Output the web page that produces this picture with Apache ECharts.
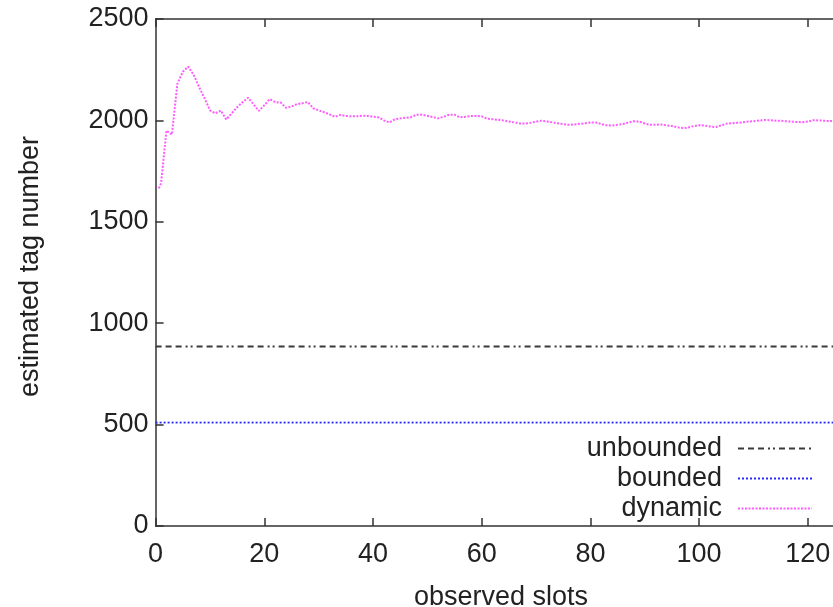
<!DOCTYPE html>
<html>
<head>
<meta charset="utf-8">
<script src="https://cdn.jsdelivr.net/npm/echarts@6/dist/echarts.min.js"></script>
<style>
html,body{margin:0;padding:0;background:#fff;}
#chart{width:833px;height:607px;}
</style>
</head>
<body>
<div id="chart"></div>
<script>
// ---- data ----
const seriesNames = ['unbounded', 'bounded', 'dynamic'];
const xTicks = [0, 20, 40, 60, 80, 100, 120, 140];
const yTicks = [0, 500, 1000, 1500, 2000, 2500];

const constSlots = [0, 140];
const unboundedValues = [885, 885];
const boundedValues = [510, 510];

const dynamicSlots = [0.6, 1, 2, 3, 4, 5, 6, 7, 8, 9, 10, 11, 12, 13, 14, 15, 16, 17, 18, 19,
  20, 21, 22, 23, 24, 25, 26, 27, 28, 29, 30, 31, 32, 33, 34, 35, 36, 37, 38, 39,
  40, 41, 42, 43, 44, 45, 46, 47, 48, 49, 50, 51, 52, 53, 54, 55, 56, 57, 58, 59,
  60, 61, 62, 63, 64, 65, 66, 67, 68, 69, 70, 71, 72, 73, 74, 75, 76, 77, 78, 79,
  80, 81, 82, 83, 84, 85, 86, 87, 88, 89, 90, 91, 92, 93, 94, 95, 96, 97, 98, 99,
  100, 101, 102, 103, 104, 105, 106, 107, 108, 109, 110, 111, 112, 113, 114, 115, 116, 117, 118, 119,
  120, 121, 122, 123, 124, 125];
const dynamicValues = [1665, 1690, 1950, 1930, 2180, 2240, 2265, 2225, 2165, 2110, 2050, 2035, 2048, 2005, 2035, 2065, 2090, 2112, 2080, 2047,
  2075, 2105, 2090, 2088, 2062, 2068, 2080, 2085, 2090, 2060, 2050, 2040, 2030, 2018, 2027, 2022, 2020, 2020, 2023, 2022,
  2018, 2015, 2000, 1990, 2005, 2010, 2013, 2016, 2028, 2028, 2023, 2016, 2010, 2018, 2028, 2028, 2015, 2018, 2022, 2022,
  2020, 2008, 2006, 2003, 2000, 1995, 1990, 1985, 1984, 1988, 1994, 1998, 1995, 1990, 1986, 1982, 1978, 1980, 1983, 1986,
  1990, 1990, 1982, 1976, 1975, 1978, 1982, 1990, 1996, 1994, 1985, 1978, 1978, 1980, 1976, 1972, 1966, 1962, 1965, 1972,
  1976, 1975, 1970, 1966, 1975, 1984, 1986, 1988, 1990, 1994, 1996, 1999, 2002, 2001, 1999, 1998, 1996, 1994, 1992, 1991,
  1994, 2001, 2000, 1998, 1997, 1996];

function pairs(xs, ys) { return xs.map((x, i) => [x, ys[i]]); }

const FONT = '"Liberation Sans", Arial, Helvetica, sans-serif';
const FS = 27;
const TXT = '#222';
const AX = '#333';

const chart = echarts.init(document.getElementById('chart'), null, {renderer: 'canvas'});

const xCommon = {
  type: 'value',
  min: xTicks[0],
  max: xTicks[xTicks.length - 1],
  interval: xTicks[1] - xTicks[0],
  splitLine: {show: false},
  axisLine: {show: true, lineStyle: {color: AX, width: 1.5}},
  axisTick: {show: true, inside: true, length: 8, lineStyle: {color: AX, width: 1.5}}
};

const option = {
  animation: false,
  backgroundColor: '#fff',
  grid: {left: 155.6, top: 19, height: 507, width: 760.9, containLabel: false, outerBoundsMode: 'none'},
  xAxis: [
    Object.assign({}, xCommon, {
      position: 'bottom',
      name: 'observed slots',
      nameLocation: 'middle',
      nameGap: 58,
      nameTextStyle: {fontFamily: FONT, fontSize: FS, color: TXT, padding: [0, 70, 0, 0]},
      axisLabel: {show: true, margin: 15, fontFamily: FONT, fontSize: FS, color: TXT,
        formatter: v => String(v)}
    }),
    Object.assign({}, xCommon, {
      position: 'top',
      axisLabel: {show: false}
    })
  ],
  yAxis: {
    type: 'value',
    min: yTicks[0],
    max: yTicks[yTicks.length - 1],
    interval: yTicks[1] - yTicks[0],
    name: 'estimated tag number',
    nameLocation: 'middle',
    nameGap: 112,
    nameTextStyle: {fontFamily: FONT, fontSize: FS, color: TXT, padding: [0, 0, 0, 12]},
    splitLine: {show: false},
    axisLine: {show: true, lineStyle: {color: AX, width: 1.5}},
    axisTick: {show: true, inside: true, length: 8, lineStyle: {color: AX, width: 1.5}},
    axisLabel: {margin: 7, fontFamily: FONT, fontSize: FS, color: TXT,
      formatter: v => String(v)}
  },
  legend: {
    orient: 'vertical',
    align: 'right',
    right: 15,
    top: 430,
    itemWidth: 74,
    itemHeight: 14,
    itemGap: 3,
    itemStyle: {opacity: 0},
    textStyle: {fontFamily: FONT, fontSize: FS, color: TXT, padding: [0, 11, 0, 0]},
    data: seriesNames
  },
  series: [
    {
      name: seriesNames[0],
      type: 'line',
      data: pairs(constSlots, unboundedValues),
      symbol: 'none',
      lineStyle: {color: '#3a3a3a', width: 1.8, type: [6, 4, 6, 4, 6, 4, 2, 3, 2, 4]},
      itemStyle: {color: '#3a3a3a'}
    },
    {
      name: seriesNames[1],
      type: 'line',
      data: pairs(constSlots, boundedValues),
      symbol: 'none',
      lineStyle: {color: '#2a2aff', width: 1.8, type: [2, 2]},
      itemStyle: {color: '#2a2aff'}
    },
    {
      name: seriesNames[2],
      type: 'line',
      data: pairs(dynamicSlots, dynamicValues),
      symbol: 'none',
      lineStyle: {color: '#ff5cff', width: 2, type: [2, 1.5]},
      itemStyle: {color: '#ff5cff'}
    }
  ]
};
chart.setOption(option);
</script>
</body>
</html>
